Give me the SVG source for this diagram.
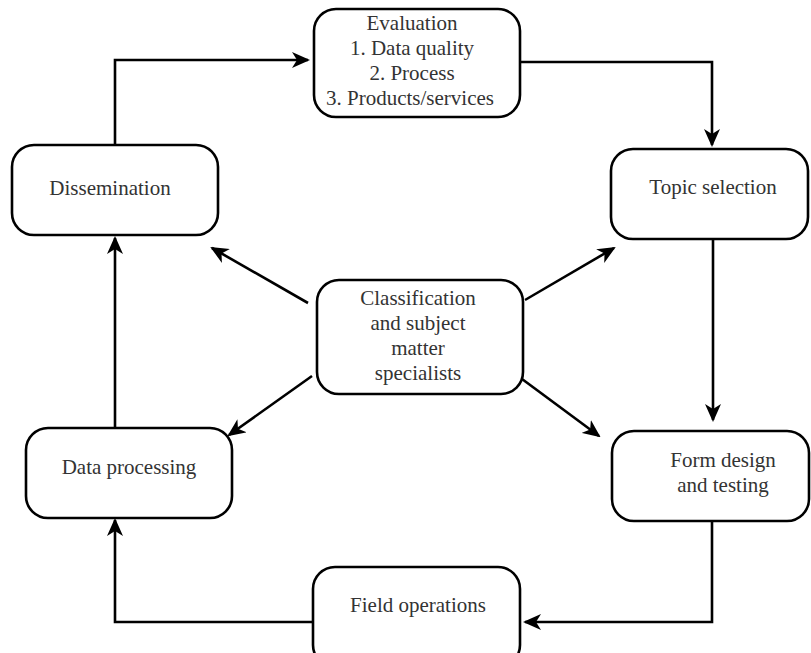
<svg xmlns="http://www.w3.org/2000/svg" width="811" height="653" viewBox="0 0 811 653">
<style>
.box{fill:#fff;stroke:#000;stroke-width:2.6}
.t{font-family:'Liberation Serif','DejaVu Serif',serif;font-size:21px;fill:#333;text-anchor:middle}
.c{fill:none;stroke:#000;stroke-width:2.6}
</style>
<defs>
<marker id="ah" markerUnits="userSpaceOnUse" viewBox="0 0 18 16" markerWidth="18" markerHeight="16" refX="16" refY="8" orient="auto">
<path d="M0,0 L18,8 L0,16 L5,8 z" fill="#000"/>
</marker>
</defs>
<rect width="811" height="653" fill="#fff"/>
<g id="connectors">
<path class="c" marker-end="url(#ah)" d="M115,145 V60 H308"/>
<path class="c" marker-end="url(#ah)" d="M520,62 H712 V145"/>
<path class="c" marker-end="url(#ah)" d="M713,239 V420"/>
<path class="c" marker-end="url(#ah)" d="M712,521 V622 H525"/>
<path class="c" marker-end="url(#ah)" d="M313,622 H115 V520"/>
<path class="c" marker-end="url(#ah)" d="M115,428 V238"/>
<path class="c" marker-end="url(#ah)" d="M308,303 L212,248"/>
<path class="c" marker-end="url(#ah)" d="M525,300 L614,248"/>
<path class="c" marker-end="url(#ah)" d="M312,376 L229,435"/>
<path class="c" marker-end="url(#ah)" d="M522,379 L599,436"/>
</g>
<g id="evaluation">
<rect class="box" x="314" y="9" width="206" height="108" rx="22"/>
<text class="t" x="412" y="30" font-family="Liberation Serif, serif">Evaluation</text>
<text class="t" x="412" y="55" font-family="Liberation Serif, serif">1. Data quality</text>
<text class="t" x="412" y="80" font-family="Liberation Serif, serif">2. Process</text>
<text class="t" x="410" y="105" font-family="Liberation Serif, serif">3. Products/services</text>
</g>
<g id="dissemination">
<rect class="box" x="12" y="145" width="206" height="90" rx="22"/>
<text class="t" x="110" y="195">Dissemination</text>
</g>
<g id="topic">
<rect class="box" x="611" y="149" width="197" height="90" rx="22"/>
<text class="t" x="713" y="194">Topic selection</text>
</g>
<g id="classification">
<rect class="box" x="317" y="280" width="206" height="114" rx="22"/>
<text class="t" x="418" y="305">Classification</text>
<text class="t" x="418" y="330">and subject</text>
<text class="t" x="418" y="355">matter</text>
<text class="t" x="418" y="380">specialists</text>
</g>
<g id="dataprocessing">
<rect class="box" x="26" y="428" width="206" height="90" rx="22"/>
<text class="t" x="129" y="474">Data processing</text>
</g>
<g id="formdesign">
<rect class="box" x="612" y="431" width="197" height="90" rx="22"/>
<text class="t" x="723" y="467">Form design</text>
<text class="t" x="723" y="492">and testing</text>
</g>
<g id="fieldoperations">
<rect class="box" x="313" y="567" width="207" height="100" rx="22"/>
<text class="t" x="418" y="612">Field operations</text>
</g>
</svg>
